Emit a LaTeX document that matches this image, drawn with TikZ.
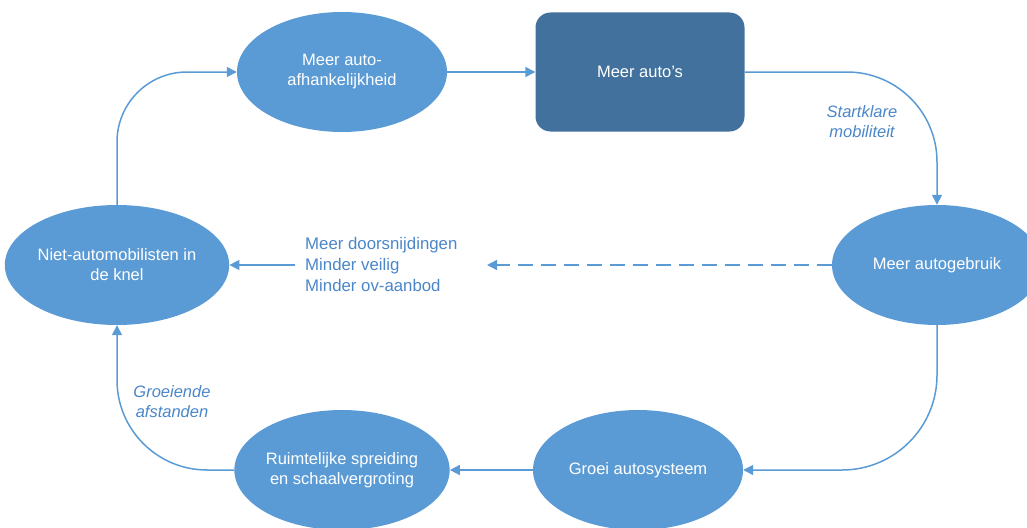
\documentclass[tikz,border=0pt]{standalone}
\usepackage{fontspec}
\setmainfont{Liberation Sans}
\usetikzlibrary{shapes.geometric,arrows.meta}
\definecolor{ell}{HTML}{5B9BD5}
\definecolor{boxc}{HTML}{41719C}
\definecolor{ln}{HTML}{5B9BD5}
\definecolor{lbl}{HTML}{4A86C8}
\begin{document}
\begin{tikzpicture}[x=1pt,y=-1pt,
  blob/.style={ellipse, fill=ell, text=white, minimum width=210pt, minimum height=120pt, inner sep=0pt, align=center, font=\fontsize{16.5}{20}\selectfont},
  sq/.style={rectangle, rounded corners=15pt, fill=boxc, text=white, minimum width=209pt, minimum height=119pt, inner sep=0pt, align=center, font=\fontsize{16.5}{20}\selectfont},
  conn/.style={draw=ln, line width=1.5pt, -{Triangle[length=10pt,width=10pt]}},
  lab/.style={text=lbl, align=center, font=\fontsize{16.5}{20}\selectfont\itshape},
  blocktxt/.style={text=lbl, align=left, inner sep=0pt, font=\fontsize{16.8}{21}\selectfont}]
\useasboundingbox (0,0) rectangle (1027,527);
\clip (0,0) rectangle (1027,527);
\node[blob] (a) at (342,72) {Meer auto-\\afhankelijkheid};
\node[sq] (b) at (640,72) {Meer auto’s};
\node[blob] (c) at (937,265) {Meer autogebruik};
\node[blob] (d) at (638,470) {Groei autosysteem};
\node[blob] (e) at (342,470) {Ruimtelijke spreiding\\en schaalvergroting};
\node[blob] (f) at (117,265) {Niet-automobilisten in\\de knel};
\node[blocktxt, anchor=west] (g) at (305,264) {Meer doorsnijdingen\\Minder veilig\\Minder ov-aanbod};
\coordinate (ds) at (487,265);
\coordinate (ss) at (295,265);
\node[lab] (l1) at (862,122) {Startklare\\mobiliteit};
\node[lab] (l2) at (172,402) {Groeiende\\afstanden};
\draw[conn, rounded corners=70pt] (f.north) |- (a.west);
\draw[conn] (a.east) -- (b.west);
\draw[conn, rounded corners=90pt] (b.east) -| (c.north);
\draw[conn, rounded corners=95pt] (c.south) |- (d.east);
\draw[conn] (d.west) -- (e.east);
\draw[conn, rounded corners=90pt] (e.west) -| (f.south);
\draw[conn, dash pattern=on 15pt off 8pt] (c.west) -- (ds);
\draw[conn] (ss) -- (f.east);
\end{tikzpicture}
\end{document}
